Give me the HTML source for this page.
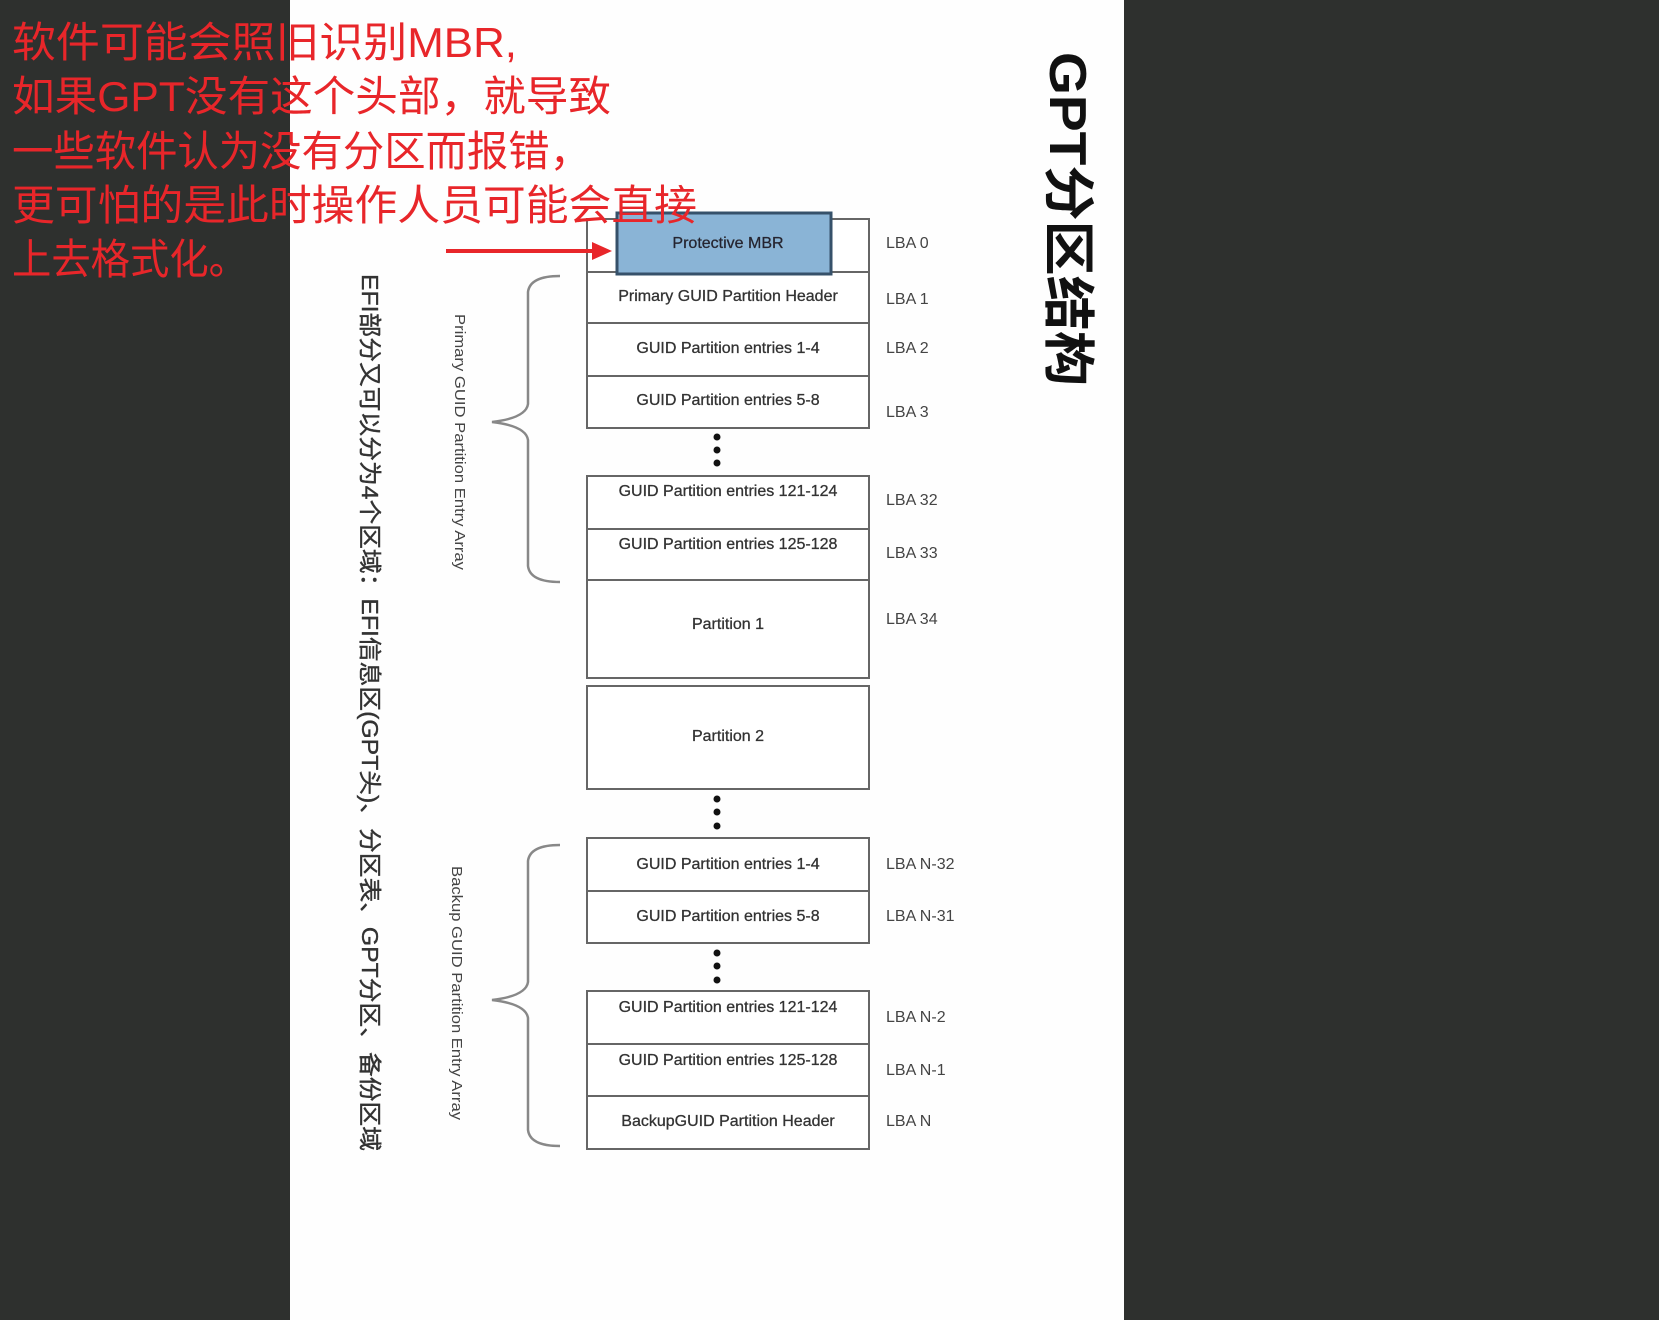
<!DOCTYPE html>
<html><head><meta charset="utf-8"><style>
html,body{margin:0;padding:0;background:#2e302e;}
svg{display:block}
</style></head><body>
<svg width="1659" height="1320" viewBox="0 0 1659 1320" xmlns="http://www.w3.org/2000/svg">
<rect x="0" y="0" width="1659" height="1320" fill="#2e302e"/>
<rect x="290" y="0" width="834" height="1320" fill="#fefefe"/>

<text transform="translate(1050,52) rotate(90)" font-family="Liberation Sans, Noto Sans CJK SC, sans-serif" font-size="52" font-weight="bold" fill="#111" textLength="334" lengthAdjust="spacingAndGlyphs">GPT分区结构</text>

<text transform="translate(362,274) rotate(90)" font-family="Liberation Sans, Noto Sans CJK SC, sans-serif" font-size="23" fill="#333" stroke="#333" stroke-width="0.4" textLength="877" lengthAdjust="spacingAndGlyphs">EFI部分又可以分为4个区域：EFI信息区(GPT头)、分区表、GPT分区、备份区域</text>

<text transform="translate(455,314) rotate(90)" font-family="Liberation Sans, sans-serif" font-size="15" fill="#444" textLength="256" lengthAdjust="spacingAndGlyphs">Primary GUID Partition Entry Array</text>
<text transform="translate(452,866) rotate(90)" font-family="Liberation Sans, sans-serif" font-size="15" fill="#444" textLength="254" lengthAdjust="spacingAndGlyphs">Backup GUID Partition Entry Array</text>

<g fill="none" stroke="#888" stroke-width="2.5">
<path d="M560,276 Q530,276 528,292 L528,404 Q526,418 492,422 Q526,426 528,440 L528,566 Q530,582 560,582"/>
<path d="M560,845 Q530,845 528,861 L528,982 Q526,996 492,1000 Q526,1004 528,1018 L528,1130 Q530,1146 560,1146"/>
</g>

<g fill="#fff" stroke="#666" stroke-width="2">
<rect x="587" y="219" width="282" height="209"/>
<line x1="587" y1="272" x2="869" y2="272"/>
<line x1="587" y1="323" x2="869" y2="323"/>
<line x1="587" y1="376" x2="869" y2="376"/>
<rect x="587" y="476" width="282" height="104"/>
<line x1="587" y1="529" x2="869" y2="529"/>
<rect x="587" y="580" width="282" height="98"/>
<rect x="587" y="686" width="282" height="103"/>
<rect x="587" y="838" width="282" height="105"/>
<line x1="587" y1="891" x2="869" y2="891"/>
<rect x="587" y="991" width="282" height="158"/>
<line x1="587" y1="1044" x2="869" y2="1044"/>
<line x1="587" y1="1096" x2="869" y2="1096"/>
</g>
<rect x="617" y="213" width="214" height="61" fill="#8ab4d6" stroke="#36516a" stroke-width="3"/>

<g fill="#111">
<circle cx="717" cy="437" r="3.5"/><circle cx="717" cy="450" r="3.5"/><circle cx="717" cy="463" r="3.5"/>
<circle cx="717" cy="799" r="3.5"/><circle cx="717" cy="812" r="3.5"/><circle cx="717" cy="826" r="3.5"/>
<circle cx="717" cy="953" r="3.5"/><circle cx="717" cy="966" r="3.5"/><circle cx="717" cy="980" r="3.5"/>
</g>

<g font-family="Liberation Sans, sans-serif" font-size="16" fill="#333" stroke="#333" stroke-width="0.3" text-anchor="middle">
<text x="728" y="248" fill="#223">Protective MBR</text>
<text x="728" y="301">Primary GUID Partition Header</text>
<text x="728" y="353">GUID Partition entries 1-4</text>
<text x="728" y="405">GUID Partition entries 5-8</text>
<text x="728" y="496">GUID Partition entries 121-124</text>
<text x="728" y="549">GUID Partition entries 125-128</text>
<text x="728" y="629">Partition 1</text>
<text x="728" y="741">Partition 2</text>
<text x="728" y="869">GUID Partition entries 1-4</text>
<text x="728" y="921">GUID Partition entries 5-8</text>
<text x="728" y="1012">GUID Partition entries 121-124</text>
<text x="728" y="1065">GUID Partition entries 125-128</text>
<text x="728" y="1126">BackupGUID Partition Header</text>
</g>

<g font-family="Liberation Sans, sans-serif" font-size="16" fill="#444">
<text x="886" y="248">LBA 0</text>
<text x="886" y="304">LBA 1</text>
<text x="886" y="353">LBA 2</text>
<text x="886" y="417">LBA 3</text>
<text x="886" y="505">LBA 32</text>
<text x="886" y="558">LBA 33</text>
<text x="886" y="624">LBA 34</text>
<text x="886" y="869">LBA N-32</text>
<text x="886" y="921">LBA N-31</text>
<text x="886" y="1022">LBA N-2</text>
<text x="886" y="1075">LBA N-1</text>
<text x="886" y="1126">LBA N</text>
</g>

<g font-family="Liberation Sans, Noto Sans CJK SC, sans-serif" font-size="42" fill="#e8262a" lengthAdjust="spacingAndGlyphs">
<text x="12" y="57" textLength="505" lengthAdjust="spacingAndGlyphs">软件可能会照旧识别MBR,</text>
<text x="12" y="111" textLength="599" lengthAdjust="spacingAndGlyphs">如果GPT没有这个头部，就导致</text>
<text x="12" y="166" textLength="579" lengthAdjust="spacingAndGlyphs">一些软件认为没有分区而报错，</text>
<text x="12" y="220" textLength="685" lengthAdjust="spacingAndGlyphs">更可怕的是此时操作人员可能会直接</text>
<text x="12" y="274" textLength="236" lengthAdjust="spacingAndGlyphs">上去格式化。</text>
</g>
<line x1="446" y1="251" x2="596" y2="251" stroke="#e8262a" stroke-width="4"/>
<polygon points="612,251 592,242 592,260" fill="#e8262a"/>
</svg>
</body></html>
